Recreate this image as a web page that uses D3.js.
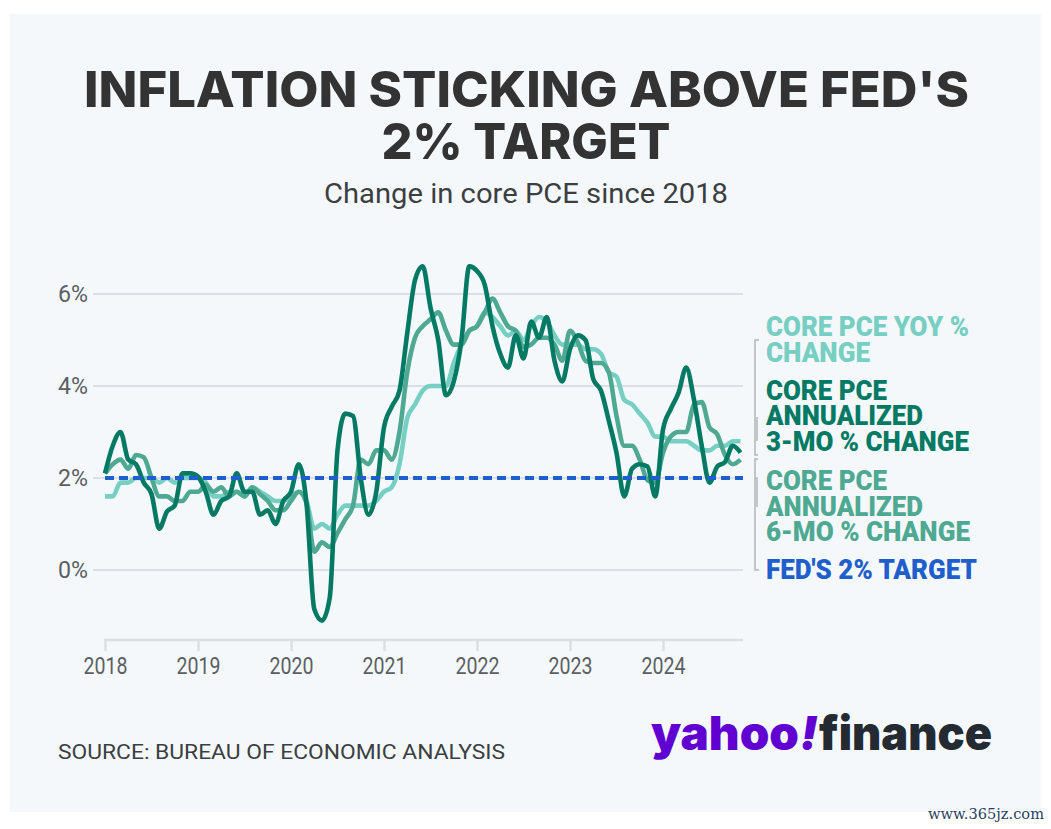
<!DOCTYPE html>
<html>
<head>
<meta charset="utf-8">
<script src="https://cdn.jsdelivr.net/npm/d3@7"></script>
<style>
  html, body { margin: 0; padding: 0; background: #fff; }
  svg { display: block; }
  text { font-family: Roboto, sans-serif; }
  .axis path { display: none; }
  .axis text { font-size: 24px; fill: #5b5f63; }
</style>
</head>
<body>
<svg id="chart" width="1051" height="829"></svg>
<script>
// monthly values from Jan 2018
var coreYoy = [1.6,1.6,1.9,1.9,2.0,2.0,2.0,1.9,2.0,1.9,2.0,2.0,2.0,1.9,1.6,1.6,1.7,1.7,1.6,1.8,1.7,1.6,1.5,1.5,1.6,1.7,1.5,0.9,1.0,0.9,1.2,1.4,1.4,1.4,1.4,1.5,1.7,1.8,2.3,3.3,3.6,3.9,4.0,4.0,4.0,4.5,4.9,5.2,5.3,5.6,5.5,5.3,5.1,5.2,5.0,5.3,5.5,5.4,5.1,4.9,4.9,4.9,4.8,4.8,4.7,4.3,4.2,3.7,3.6,3.4,3.2,2.9,2.9,2.8,2.8,2.8,2.7,2.6,2.6,2.7,2.7,2.8,2.8];
var core3mo = [2.1,2.7,3.0,2.4,2.3,1.9,1.65,0.9,1.27,1.4,2.1,2.1,2.03,1.7,1.2,1.5,1.6,2.1,1.7,1.7,1.2,1.3,1.0,1.5,1.7,2.3,1.45,-0.85,-1.1,-0.6,2.6,3.4,3.35,2.0,1.2,1.7,3.1,3.55,3.9,5.15,6.3,6.6,5.7,5.0,3.8,4.1,5.0,6.6,6.5,6.2,5.3,4.7,4.4,5.1,4.6,5.4,5.05,5.5,4.55,4.1,4.8,5.1,5.0,4.15,3.9,3.25,2.55,1.6,2.2,2.3,2.25,1.6,3.05,3.5,3.85,4.4,3.7,2.7,1.9,2.25,2.35,2.7,2.55];
var core6mo = [2.1,2.3,2.4,2.2,2.5,2.45,2.0,1.6,1.6,1.5,1.5,1.7,1.7,1.85,1.7,1.8,1.6,1.7,1.6,1.8,1.65,1.5,1.3,1.3,1.5,1.7,1.45,0.4,0.6,0.5,0.8,1.1,1.4,2.4,2.3,2.6,2.6,2.4,3.0,4.3,5.05,5.3,5.45,5.6,5.2,4.9,4.9,5.2,5.3,5.6,5.9,5.6,5.3,5.2,4.85,4.9,5.05,5.05,4.9,4.55,5.2,4.95,4.55,4.5,4.5,4.3,3.35,2.7,2.7,2.4,1.95,1.9,2.55,2.9,3.0,3.0,3.6,3.65,3.1,2.95,2.5,2.3,2.4];
var target = [2, 2];
var yearLabels = ["2018", "2019", "2020", "2021", "2022", "2023", "2024"];
var yTicks = [0, 2, 4, 6];

var svg = d3.select("#chart");

var x = d3.scaleLinear().domain([0, 82]).range([105, 740.5]);
var y = d3.scaleLinear().domain([0, 6]).range([570, 294]);

// panel
svg.append("rect").attr("x", 10).attr("y", 14).attr("width", 1031).attr("height", 798).attr("fill", "#f4f8fb");

// title
var title = svg.append("g").attr("text-anchor", "middle").attr("fill", "#333333");
title.append("text").attr("x", 526.5).attr("y", 107).text("INFLATION STICKING ABOVE FED'S")
  .style("font-family", "Inter").style("font-weight", 800).style("font-size", "50px")
  .attr("textLength", 885).attr("lengthAdjust", "spacingAndGlyphs");
title.append("text").attr("x", 526).attr("y", 159).text("2% TARGET")
  .style("font-family", "Inter").style("font-weight", 800).style("font-size", "50px")
  .attr("textLength", 289).attr("lengthAdjust", "spacingAndGlyphs");
title.append("text").attr("x", 526).attr("y", 203).text("Change in core PCE since 2018")
  .style("font-size", "28px").attr("fill", "#3c3f42")
  .attr("textLength", 404).attr("lengthAdjust", "spacingAndGlyphs");

// gridlines + y labels
var yAxis = d3.axisLeft(y).tickValues(yTicks).tickSize(0).tickPadding(17)
  .tickFormat(function(d) { return d + "%"; });
var yg = svg.append("g").attr("class", "axis").attr("transform", "translate(105,0)").call(yAxis);
yg.selectAll("text").attr("textLength", 30).attr("lengthAdjust", "spacingAndGlyphs");

svg.append("g").selectAll("line").data(yTicks).enter().append("line")
  .attr("x1", 93).attr("x2", 743)
  .attr("y1", function(d) { return y(d); })
  .attr("y2", function(d) { return y(d); })
  .attr("stroke", "#dcdfe3").attr("stroke-width", 2);

// x axis
var xAxis = d3.axisBottom(x)
  .tickValues(yearLabels.map(function(d, i) { return i * 12; }))
  .tickSize(11).tickPadding(6)
  .tickFormat(function(d, i) { return yearLabels[i]; });
var xg = svg.append("g").attr("class", "axis").attr("transform", "translate(0,640)").call(xAxis);
xg.selectAll("line").attr("stroke", "#dcdfe3").attr("stroke-width", 2.5);
xg.selectAll("text").attr("textLength", 44).attr("lengthAdjust", "spacingAndGlyphs");
svg.append("line").attr("x1", 104).attr("x2", 743).attr("y1", 640).attr("y2", 640)
  .attr("stroke", "#dcdfe3").attr("stroke-width", 2.5);

// lines
var line = d3.line()
  .x(function(d, i) { return x(i); })
  .y(function(d) { return y(d); })
  .curve(d3.curveMonotoneX);

svg.append("path").datum(coreYoy).attr("d", line).attr("fill", "none").attr("stroke", "#76cfc2").attr("stroke-width", 4.6);
svg.append("path").datum(core6mo).attr("d", line).attr("fill", "none").attr("stroke", "#4fa992").attr("stroke-width", 4.6);
svg.append("path").datum(core3mo).attr("d", line).attr("fill", "none").attr("stroke", "#047a65").attr("stroke-width", 4.6);

svg.append("line")
  .attr("x1", x(0)).attr("x2", 743)
  .attr("y1", y(target[0])).attr("y2", y(target[1]))
  .attr("stroke", "#1f5fcc").attr("stroke-width", 4).attr("stroke-dasharray", "9 5");

// legend brackets
var brackets = [
  "M759,340H755V455H758",
  "M757,441V417",
  "M758,459H755V570H759",
  "M755,478H757V507"
];
svg.append("g").selectAll("path").data(brackets).enter().append("path")
  .attr("d", function(d) { return d; })
  .attr("fill", "none").attr("stroke", "#b3b5b8").attr("stroke-width", 1.5);

// legend
var legendRows = [
  { text: "CORE PCE YOY %", y: 336, w: 203, color: "#76cfc2" },
  { text: "CHANGE", y: 362, w: 104, color: "#76cfc2" },
  { text: "CORE PCE", y: 400, w: 121, color: "#047a65" },
  { text: "ANNUALIZED", y: 425, w: 157, color: "#047a65" },
  { text: "3-MO % CHANGE", y: 451, w: 203, color: "#047a65" },
  { text: "CORE PCE", y: 490, w: 121, color: "#4fa992" },
  { text: "ANNUALIZED", y: 516, w: 157, color: "#4fa992" },
  { text: "6-MO % CHANGE", y: 541, w: 204, color: "#4fa992" },
  { text: "FED'S 2% TARGET", y: 579, w: 211, color: "#1f5fcc" }
];
svg.append("g").selectAll("text").data(legendRows).enter().append("text")
  .attr("x", 766)
  .attr("y", function(d) { return d.y; })
  .attr("fill", function(d) { return d.color; })
  .attr("textLength", function(d) { return d.w; })
  .attr("lengthAdjust", "spacingAndGlyphs")
  .style("font-size", "28px").style("font-weight", 900)
  .text(function(d) { return d.text; });

// source
svg.append("text").attr("x", 58).attr("y", 759).attr("fill", "#3c3f42")
  .style("font-size", "20px").attr("textLength", 447).attr("lengthAdjust", "spacingAndGlyphs")
  .text("SOURCE: BUREAU OF ECONOMIC ANALYSIS");

// logo
svg.append("text").attr("x", 651).attr("y", 750).attr("fill", "#6001d2")
  .style("font-family", "Inter").style("font-weight", 900).style("font-size", "47px")
  .attr("textLength", 148).attr("lengthAdjust", "spacingAndGlyphs").text("yahoo");
svg.append("text").attr("x", 800).attr("y", 750).attr("fill", "#6001d2")
  .style("font-family", "Inter").style("font-weight", 900).style("font-style", "italic").style("font-size", "47px")
  .text("!");
svg.append("text").attr("x", 819).attr("y", 750).attr("fill", "#232a31")
  .style("font-family", "Inter").style("font-weight", 900).style("font-size", "47px")
  .attr("textLength", 173).attr("lengthAdjust", "spacingAndGlyphs").text("finance");

// watermark
svg.append("text").attr("x", 928).attr("y", 819).attr("fill", "#2b3f63")
  .style("font-family", "'DejaVu Serif'").style("font-size", "14px")
  .attr("textLength", 116).attr("lengthAdjust", "spacingAndGlyphs").text("www.365jz.com");
</script>
</body>
</html>
